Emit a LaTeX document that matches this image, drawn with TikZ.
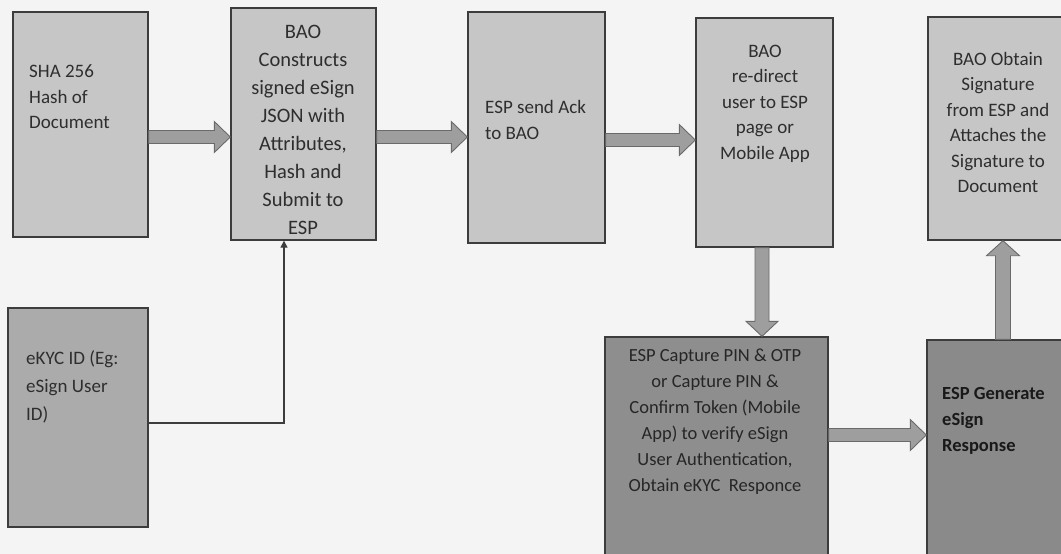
\documentclass[tikz,border=0pt]{standalone}
\usepackage{fontspec}
\setmainfont{Carlito}
\usetikzlibrary{calc,arrows.meta}
\definecolor{bgc}{HTML}{F4F4F4}
\definecolor{lightbox}{HTML}{C6C6C6}
\definecolor{midbox}{HTML}{ABABAB}
\definecolor{darkbox}{HTML}{8E8E8E}
\definecolor{darkbox2}{HTML}{8A8A8A}
\definecolor{edge}{HTML}{3C3C3C}
\definecolor{arrfill}{HTML}{9E9E9E}
\definecolor{arredge}{HTML}{6A6A6A}
\definecolor{txt}{HTML}{2E2E2E}
\tikzset{
  box/.style={draw=edge, line width=1.4pt, rectangle, inner sep=0pt},
  blk/.style={draw=arredge, fill=arrfill, line width=0.9pt, line join=miter},
  lbl/.style={inner sep=0pt, text=txt, font=\fontsize{19}{25.5}\selectfont},
  thinconn/.style={draw=edge, line width=1.3pt, -{Triangle[length=7pt,width=7pt]}}
}
\newcommand{\hblk}[2]{\draw[blk] ($(#1)+(0,-6.5)$) -- ($(#2)+(-16,-6.5)$) -- ($(#2)+(-16,-15.5)$) -- (#2) -- ($(#2)+(-16,15.5)$) -- ($(#2)+(-16,6.5)$) -- ($(#1)+(0,6.5)$) -- cycle;}
\newcommand{\vdn}[2]{\draw[blk] ($(#1)+(-7,0)$) -- ($(#2)+(-7,-15)$) -- ($(#2)+(-16,-15)$) -- (#2) -- ($(#2)+(16,-15)$) -- ($(#2)+(7,-15)$) -- ($(#1)+(7,0)$) -- cycle;}
\newcommand{\vup}[2]{\draw[blk] ($(#1)+(-7.5,0)$) -- ($(#2)+(-7.5,15)$) -- ($(#2)+(-16.5,15)$) -- (#2) -- ($(#2)+(16.5,15)$) -- ($(#2)+(7.5,15)$) -- ($(#1)+(7.5,0)$) -- cycle;}
\begin{document}
\begin{tikzpicture}[x=1pt,y=-1pt]
\useasboundingbox (0,0) rectangle (1061,554);
\fill[bgc] (0,0) rectangle (1061,554);

% boxes
\node[box, fill=lightbox, minimum width=135pt, minimum height=225pt] (b1) at (80.5,124.5) {};
\node[box, fill=lightbox, minimum width=145pt, minimum height=232pt] (b2) at (303.5,124) {};
\node[box, fill=lightbox, minimum width=137pt, minimum height=231pt] (b3) at (536.5,127.5) {};
\node[box, fill=lightbox, minimum width=137pt, minimum height=229pt] (b4) at (764.5,132.5) {};
\node[box, fill=lightbox, minimum width=135pt, minimum height=223pt] (b5) at (995.5,128.5) {};
\node[box, fill=midbox, minimum width=140pt, minimum height=219pt] (b6) at (78,417.5) {};
\node[box, fill=darkbox, minimum width=223pt, minimum height=219pt] (b7) at (716.5,446.5) {};
\node[box, fill=darkbox2, minimum width=136pt, minimum height=216pt] (b8) at (995,448) {};

% texts
\node[lbl, anchor=west, align=left] (t1) at (29,97) {SHA 256\\Hash of\\Document};
\node[lbl, align=center, font=\fontsize{20.5}{28}\selectfont] (t2) at (303,129.5) {BAO\\Constructs\\signed eSign\\JSON with\\Attributes,\\Hash and\\Submit to\\ESP};
\node[lbl, anchor=west, align=left] (t3) at (485,120) {ESP send Ack\\to BAO};
\node[lbl, align=center] (t4) at (765,103.5) {BAO\\re-direct\\user to ESP\\page or\\Mobile App};
\node[lbl, align=center] (t5) at (998,122.5) {BAO Obtain\\Signature\\from ESP and\\Attaches the\\Signature to\\Document};
\node[lbl, anchor=west, align=left, font=\fontsize{19}{28}\selectfont] (t6) at (26,386.5) {eKYC ID (Eg:\\eSign User\\ID)};
\node[lbl, align=center, font=\fontsize{18.5}{26}\selectfont, text=black!85] (t7) at (715,422) {ESP Capture PIN \& OTP\\or Capture PIN \&\\Confirm Token (Mobile\\App) to verify eSign\\User Authentication,\\Obtain eKYC~ Responce};
\node[lbl, anchor=west, align=left, font=\fontsize{18.5}{26}\selectfont\bfseries, text=black!90] (t8) at (942,421) {ESP Generate\\eSign\\Response};

% connector coordinates
\coordinate (a1s) at (b1.east |- 0,137);
\coordinate (a1e) at (b2.west |- 0,137);
\coordinate (a2s) at (b2.east |- 0,137);
\coordinate (a2e) at (b3.west |- 0,137);
\coordinate (a3s) at (b3.east |- 0,140);
\coordinate (a3e) at (b4.west |- 0,140);
\coordinate (a4s) at (b4.south -| 762,0);
\coordinate (a4e) at (b7.north -| 762,0);
\coordinate (a5s) at (b7.east |- 0,435);
\coordinate (a5e) at (b8.west |- 0,435);
\coordinate (a6s) at (b8.north -| 1003,0);
\coordinate (a6e) at (b5.south -| 1003,0);
\coordinate (k) at (284,423);

\hblk{a1s}{a1e}
\hblk{a2s}{a2e}
\hblk{a3s}{a3e}
\hblk{a5s}{a5e}
\vdn{a4s}{a4e}
\vup{a6s}{a6e}

\draw[thinconn] (b6.east |- k) -- (k) -- (k |- b2.south);
\end{tikzpicture}
\end{document}
